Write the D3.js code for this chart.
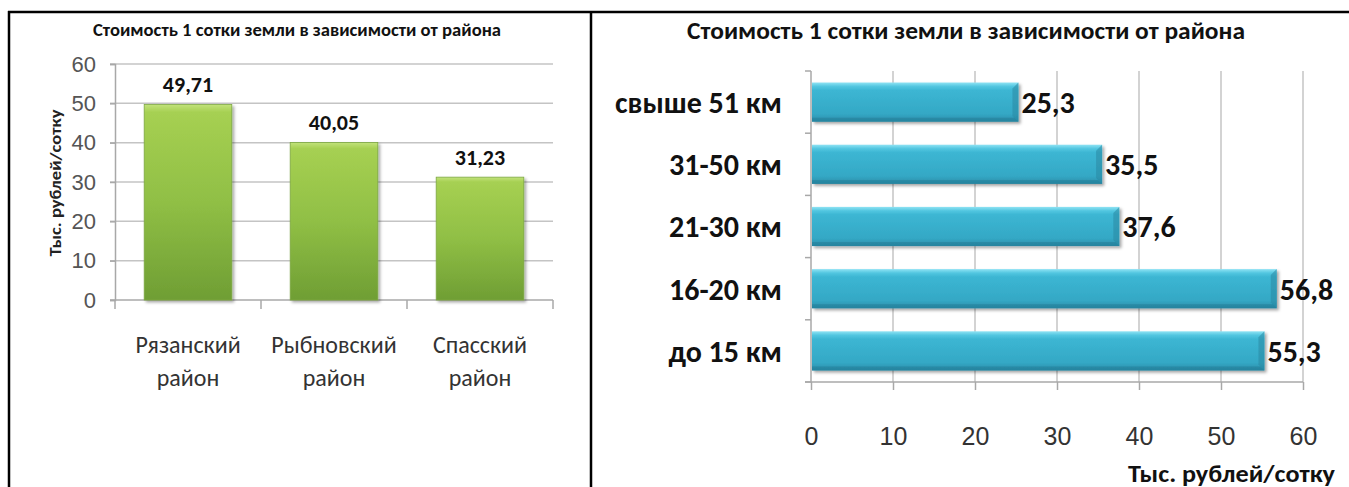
<!DOCTYPE html>
<html>
<head>
<meta charset="utf-8">
<script src="https://cdn.jsdelivr.net/npm/d3@7"></script>
<style>
  body { margin: 0; background: #fff; }
  svg { display: block; font-family: Carlito, "Liberation Sans Narrow", "Open Sans", sans-serif; }
</style>
</head>
<body>
<svg id="page" width="1349" height="487"></svg>
<script>
// chart data
const chartTitle = "Стоимость 1 сотки земли в зависимости от района";
const unitLabel = "Тыс. рублей/сотку";

const districts = ["Рязанский район", "Рыбновский район", "Спасский район"];
const districtPrices = [49.71, 40.05, 31.23];
const districtTicks = [0, 10, 20, 30, 40, 50, 60];

const distanceBands = ["свыше 51 км", "31-50 км", "21-30 км", "16-20 км", "до 15 км"];
const bandPrices = [25.3, 35.5, 37.6, 56.8, 55.3];
const bandTicks = [0, 10, 20, 30, 40, 50, 60];

const ru = d3.formatLocale({decimal: ",", thousands: " ", grouping: [3], currency: ["", ""]});

const svg = d3.select("#page");
const defs = svg.append("defs");

function gradient(id, stops) {
    const g = defs.append("linearGradient").attr("id", id)
        .attr("x1", 0).attr("y1", 0).attr("x2", 0).attr("y2", 1);
    stops.forEach(s => g.append("stop").attr("offset", s[0]).attr("stop-color", s[1]));
}
gradient("greenFill", [["0%", "#c2e27a"], ["4%", "#a6d052"], ["50%", "#90bf45"], ["100%", "#6f9e34"]]);
gradient("blueFill", [["0%", "#8fe3f4"], ["10%", "#52c6e0"], ["20%", "#3cb6d3"], ["80%", "#34a8c5"], ["100%", "#2a8ca8"]]);

const shadow = defs.append("filter").attr("id", "shadow")
    .attr("x", "-10%").attr("y", "-20%").attr("width", "130%").attr("height", "160%");
shadow.append("feDropShadow").attr("dx", 2).attr("dy", 2).attr("stdDeviation", 1.5)
    .attr("flood-color", "#000").attr("flood-opacity", 0.35);

// table borders
const border = svg.append("g").attr("stroke", "#000").attr("stroke-width", 2.5);
border.append("line").attr("x1", 8).attr("x2", 1349).attr("y1", 12).attr("y2", 12);
border.append("line").attr("x1", 9).attr("x2", 9).attr("y1", 11).attr("y2", 487);
border.append("line").attr("x1", 591).attr("x2", 591).attr("y1", 11).attr("y2", 487);

// ---------- left: vertical columns ----------
function drawColumns() {
    const g = svg.append("g");
    const x = d3.scaleBand().domain(districts).range([115, 553])
        .paddingInner(0.4).paddingOuter(0.2);
    const y = d3.scaleLinear().domain([0, 60]).range([300, 64]);

    g.append("text")
        .attr("x", 297).attr("y", 36)
        .attr("text-anchor", "middle")
        .attr("font-weight", "bold").attr("font-size", 19).attr("fill", "#111")
        .attr("textLength", 408).attr("lengthAdjust", "spacingAndGlyphs")
        .text(chartTitle);

    // gridlines
    g.append("g").selectAll("line")
        .data(districtTicks.filter(d => d > 0))
        .join("line")
        .attr("x1", 110).attr("x2", 553)
        .attr("y1", d => y(d)).attr("y2", d => y(d))
        .attr("stroke", "#c4c4c4").attr("stroke-width", 1.5);

    const yAxis = g.append("g")
        .attr("transform", "translate(115,0)")
        .call(d3.axisLeft(y).tickValues(districtTicks).tickSize(5).tickPadding(14));
    yAxis.select(".domain").attr("stroke", "#a8a8a8").attr("stroke-width", 1.5);
    yAxis.selectAll(".tick line").attr("stroke", "#a8a8a8").attr("stroke-width", 1.5);
    yAxis.selectAll("text").attr("font-size", 22).attr("fill", "#555").attr("font-family", null);

    // x axis with ticks at band boundaries
    g.append("line").attr("x1", 110).attr("x2", 553).attr("y1", 300).attr("y2", 300)
        .attr("stroke", "#a8a8a8").attr("stroke-width", 1.5);
    const bounds = d3.range(districts.length + 1).map(i => 115 + i * (553 - 115) / districts.length);
    g.append("g").selectAll("line")
        .data(bounds)
        .join("line")
        .attr("x1", d => d).attr("x2", d => d).attr("y1", 300).attr("y2", 309)
        .attr("stroke", "#a8a8a8").attr("stroke-width", 1.5);

    g.append("g").selectAll("rect")
        .data(districtPrices)
        .join("rect")
        .attr("x", (d, i) => x(districts[i]))
        .attr("y", d => y(d))
        .attr("width", x.bandwidth())
        .attr("height", d => y(0) - y(d))
        .attr("fill", "url(#greenFill)")
        .attr("stroke", "#7da843").attr("stroke-width", 0.8)
        .attr("filter", "url(#shadow)");

    g.append("g").selectAll("text")
        .data(districtPrices)
        .join("text")
        .attr("x", (d, i) => x(districts[i]) + x.bandwidth() / 2)
        .attr("y", d => y(d) - 12)
        .attr("text-anchor", "middle")
        .attr("font-weight", "bold").attr("font-size", 22).attr("fill", "#111")
        .text(d => ru.format(".2f")(d));

    const cat = g.append("g").selectAll("text")
        .data(districts)
        .join("text")
        .attr("text-anchor", "middle")
        .attr("font-size", 24).attr("fill", "#333");
    cat.append("tspan")
        .attr("x", d => x(d) + x.bandwidth() / 2).attr("y", 353)
        .text(d => d.split(" ")[0]);
    cat.append("tspan")
        .attr("x", d => x(d) + x.bandwidth() / 2).attr("y", 386)
        .text(d => d.split(" ")[1]);

    g.append("text")
        .attr("transform", "translate(61,183) rotate(-90)")
        .attr("text-anchor", "middle")
        .attr("font-weight", "bold").attr("font-size", 16).attr("fill", "#222")
        .attr("textLength", 147).attr("lengthAdjust", "spacingAndGlyphs")
        .text(unitLabel);
}

// ---------- right: horizontal bars ----------
function drawBars() {
    const g = svg.append("g");
    const x = d3.scaleLinear().domain([0, 60]).range([811, 1303]);
    const y = d3.scaleBand().domain(distanceBands).range([71, 382])
        .paddingInner(0.37).paddingOuter(0.185);

    g.append("text")
        .attr("x", 966).attr("y", 39)
        .attr("text-anchor", "middle")
        .attr("font-weight", "bold").attr("font-size", 25).attr("fill", "#111")
        .attr("textLength", 558).attr("lengthAdjust", "spacingAndGlyphs")
        .text(chartTitle);

    // vertical gridlines
    g.append("g").selectAll("line")
        .data(bandTicks.filter(d => d > 0))
        .join("line")
        .attr("x1", d => x(d)).attr("x2", d => x(d))
        .attr("y1", 71).attr("y2", 382)
        .attr("stroke", "#c4c4c4").attr("stroke-width", 1.5);

    const xAxis = g.append("g")
        .attr("transform", "translate(0,382)")
        .call(d3.axisBottom(x).tickValues(bandTicks).tickSize(8).tickPadding(37));
    xAxis.select(".domain").attr("stroke", "#a8a8a8").attr("stroke-width", 1.5)
        .attr("d", "M805,0H" + x(60));
    xAxis.selectAll(".tick line").attr("stroke", "#a8a8a8").attr("stroke-width", 1.5);
    xAxis.selectAll("text").attr("font-size", 25).attr("fill", "#333").attr("font-family", null);

    // y axis with ticks at band boundaries
    g.append("line").attr("x1", 811).attr("x2", 811).attr("y1", 71).attr("y2", 382)
        .attr("stroke", "#a8a8a8").attr("stroke-width", 1.5);
    const bounds = d3.range(distanceBands.length + 1).map(i => 71 + i * (382 - 71) / distanceBands.length);
    g.append("g").selectAll("line")
        .data(bounds)
        .join("line")
        .attr("x1", 805).attr("x2", 811).attr("y1", d => d).attr("y2", d => d)
        .attr("stroke", "#a8a8a8").attr("stroke-width", 1.5);

    const bars = g.append("g").selectAll("g")
        .data(bandPrices)
        .join("g")
        .attr("filter", "url(#shadow)");
    bars.append("rect")
        .attr("x", x(0) + 1)
        .attr("y", (d, i) => y(distanceBands[i]))
        .attr("width", d => x(d) - x(0) - 1)
        .attr("height", y.bandwidth())
        .attr("fill", "url(#blueFill)");
    // bevel on the right end
    bars.append("path")
        .attr("d", (d, i) => {
            const x1 = x(d), y0 = y(distanceBands[i]), y1 = y0 + y.bandwidth();
            return `M${x1 - 6},${y0 + 6}L${x1},${y0}L${x1},${y1}L${x1 - 6},${y1 - 6}Z`;
        })
        .attr("fill", "#2a88a3").attr("opacity", 0.55);
    // bevel on the bottom
    bars.append("path")
        .attr("d", (d, i) => {
            const x0 = x(0) + 1, x1 = x(d), y1 = y(distanceBands[i]) + y.bandwidth();
            return `M${x0},${y1 - 4}L${x1 - 4},${y1 - 4}L${x1},${y1}L${x0},${y1}Z`;
        })
        .attr("fill", "#237c95").attr("opacity", 0.5);

    g.append("g").selectAll("text")
        .data(bandPrices)
        .join("text")
        .attr("x", d => x(d) + 3)
        .attr("y", (d, i) => y(distanceBands[i]) + y.bandwidth() / 2)
        .attr("dy", "0.36em")
        .attr("font-weight", "bold").attr("font-size", 30).attr("fill", "#111")
        .text(d => ru.format(".1f")(d));

    g.append("g").selectAll("text")
        .data(distanceBands)
        .join("text")
        .attr("x", 782)
        .attr("y", d => y(d) + y.bandwidth() / 2)
        .attr("dy", "0.36em")
        .attr("text-anchor", "end")
        .attr("font-weight", "bold").attr("font-size", 30).attr("fill", "#111")
        .text(d => d);

    g.append("text")
        .attr("x", 1335).attr("y", 482)
        .attr("text-anchor", "end")
        .attr("font-weight", "bold").attr("font-size", 24).attr("fill", "#111")
        .attr("textLength", 207).attr("lengthAdjust", "spacingAndGlyphs")
        .text(unitLabel);
}

drawColumns();
drawBars();
</script>
</body>
</html>
